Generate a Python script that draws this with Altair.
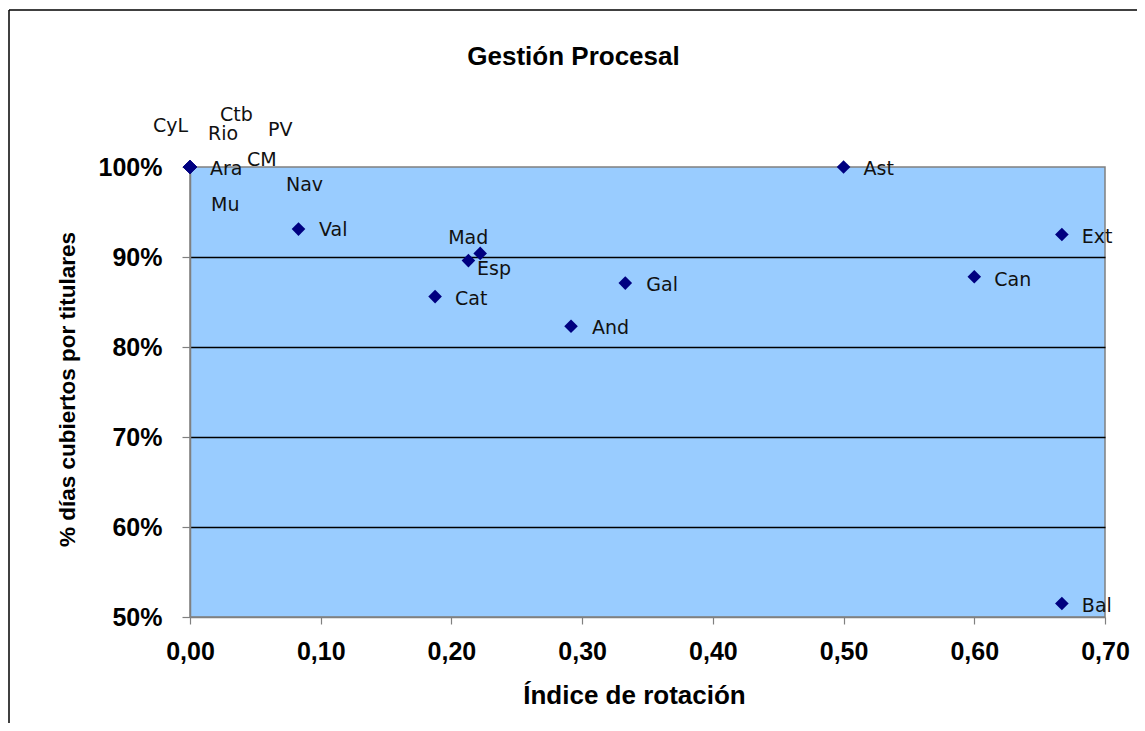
import altair as alt
import pandas as pd

# ---- data ----
regions = ["CyL", "Rio", "Ctb", "PV", "Ara", "CM", "Nav", "Mu",
           "Val", "Mad", "Esp", "Cat", "And", "Gal", "Ast", "Ext", "Can", "Bal"]
rotacion = [0.0, 0.0, 0.0, 0.0, 0.0, 0.0, 0.0, 0.0,
            0.083, 0.222, 0.213, 0.1875, 0.2915, 0.333, 0.5, 0.667, 0.6, 0.667]
cubiertos = [1.0, 1.0, 1.0, 1.0, 1.0, 1.0, 1.0, 1.0,
             0.931, 0.904, 0.896, 0.856, 0.823, 0.871, 1.0, 0.925, 0.878, 0.515]

x_ticks = [0.0, 0.1, 0.2, 0.3, 0.4, 0.5, 0.6, 0.7]
y_ticks = [0.5, 0.6, 0.7, 0.8, 0.9, 1.0]

# ---- label placement (pixel offsets from each point, style only) ----
label_offsets = {
    "CyL": (-37, -41.5), "Ctb": (30, -52), "Rio": (18, -33.5), "PV": (78, -37.5),
    "CM": (57, -7.5), "Ara": (20, 1.5), "Nav": (96, 17.5), "Mu": (21, 37.5),
    "Val": (20.5, 1), "Mad": (-32, -15), "Esp": (8.6, 8), "Cat": (20, 2),
    "Gal": (21, 2), "And": (21, 2), "Ast": (20, 1.5), "Ext": (20, 2),
    "Can": (20, 3), "Bal": (20, 2),
}

df = pd.DataFrame({"region": regions, "rot": rotacion, "cub": cubiertos})

W, H = 915, 450
BOLD = "Liberation Sans"
LBL = "DejaVu Sans"

x_enc = alt.X("rot:Q",
              scale=alt.Scale(domain=[0, 0.7], nice=False, zero=False),
              axis=alt.Axis(values=x_ticks,
                            labelExpr="replace(format(datum.value, '.2f'), '.', ',')",
                            title="Índice de rotación",
                            titleFont=BOLD, titleFontSize=26, titleFontWeight="bold",
                            titleColor="black",
                            titleX=444, titleY=86, titleAlign="center",
                            titleBaseline="alphabetic",
                            labelFont=BOLD, labelFontSize=25, labelFontWeight="bold",
                            labelColor="black", labelBaseline="alphabetic",
                            labelPadding=35, tickSize=7,
                            tickColor="#808080", domainColor="#808080",
                            domainWidth=1.5, tickWidth=1.2, grid=False,
                            labelFlush=False, labelOverlap=False))

y_enc = alt.Y("cub:Q",
              scale=alt.Scale(domain=[0.5, 1.0], nice=False, zero=False),
              axis=alt.Axis(values=y_ticks, format=".0%",
                            title="% días cubiertos por titulares",
                            titleFont=BOLD, titleFontSize=22.5, titleFontWeight="bold",
                            titleColor="black",
                            titleX=-123, titleY=222, titleAngle=-90,
                            titleAlign="center", titleBaseline="middle",
                            labelFont=BOLD, labelFontSize=25, labelFontWeight="bold",
                            labelColor="black", labelPadding=20, tickSize=8,
                            tickColor="#808080", domainColor="#808080",
                            domainWidth=1.5, tickWidth=1.2,
                            grid=True,
                            gridColor={"condition": {"test": "datum.value < 0.55 || datum.value > 0.95",
                                                     "value": "transparent"},
                                       "value": "black"},
                            gridWidth=1.3,
                            labelFlush=False, labelOverlap=False))

points = alt.Chart(df).mark_point(shape="diamond", filled=True, color="#000080",
                                  size=185, opacity=1).encode(x=x_enc, y=y_enc)

label_layers = []
for name in regions:
    dx, dy = label_offsets[name]
    label_layers.append(
        alt.Chart(df).transform_filter(alt.datum.region == name)
        .mark_text(align="left", baseline="middle", dx=dx, dy=dy,
                   font=LBL, fontSize=19, color="#111111")
        .encode(x="rot:Q", y="cub:Q", text="region:N")
    )

one = alt.Data(values=[{"k": 1}])
title = alt.Chart(one).mark_text(text="Gestión Procesal", align="center",
                                 baseline="alphabetic", font=BOLD, fontSize=26,
                                 fontWeight="bold", color="black").encode(
    x=alt.value(383.5), y=alt.value(-102))

frame_left = alt.Chart(one).mark_rule(color="black", strokeWidth=1.5).encode(
    x=alt.value(-181), y=alt.value(-157), y2=alt.value(560))
frame_top = alt.Chart(one).mark_rule(color="black", strokeWidth=1.5).encode(
    x=alt.value(-181), x2=alt.value(950), y=alt.value(-157))

chart = alt.layer(points, *label_layers, title, frame_left, frame_top).properties(
    width=W, height=H,
    autosize=alt.AutoSizeParams(type="none"),
    padding={"left": 182, "top": 159, "right": 32, "bottom": 106},
    background="white",
).configure_view(
    fill="#99CCFF", stroke="#808080", strokeWidth=1.5
)

chart.save("out.html", embed_options={"renderer": "svg", "actions": False})
